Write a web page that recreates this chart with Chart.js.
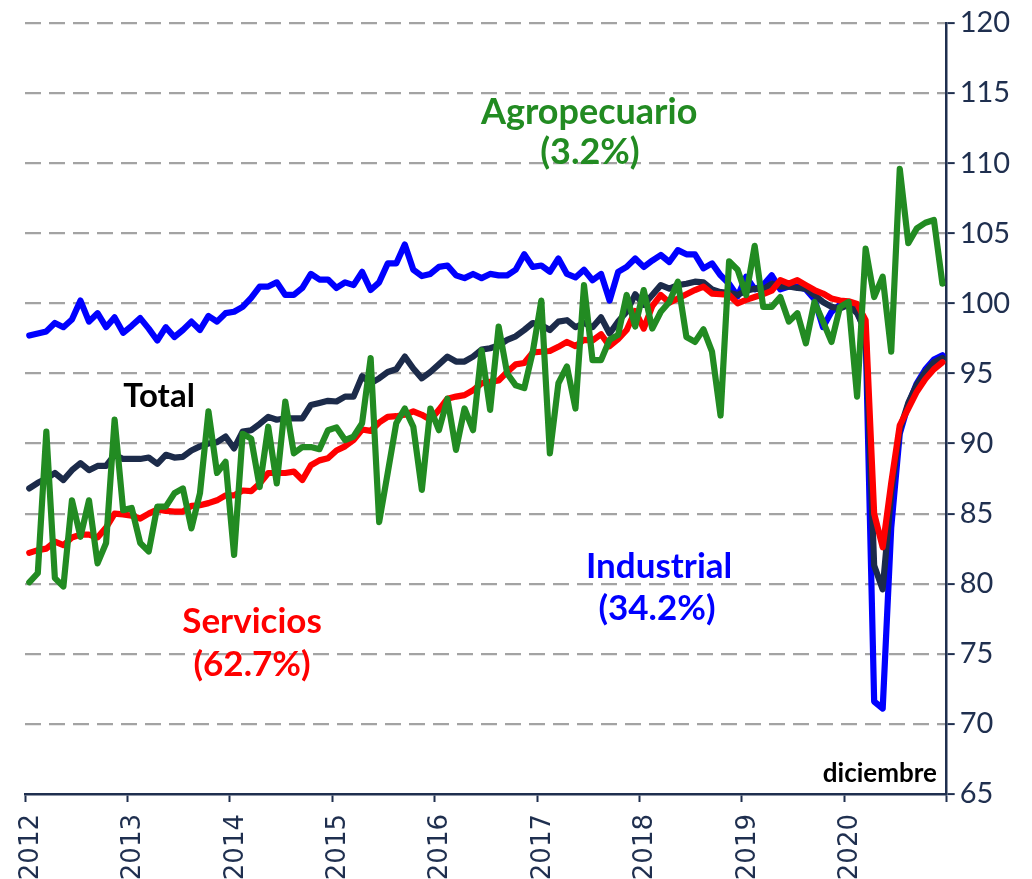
<!DOCTYPE html>
<html>
<head>
<meta charset="utf-8">
<script src="https://cdn.jsdelivr.net/npm/chart.js@4.4.1/dist/chart.umd.min.js"></script>
<style>
  html, body { margin: 0; padding: 0; background: #ffffff; }
  canvas { display: block; }
</style>
</head>
<body>
<canvas id="grafico" width="1032" height="879"></canvas>
<script>
// tick labels and categories
const anios = ['2012', '2013', '2014', '2015', '2016', '2017', '2018', '2019', '2020'];
const mesesAbr = ['ene', 'feb', 'mar', 'abr', 'may', 'jun', 'jul', 'ago', 'sep', 'oct', 'nov', 'dic'];
const meses = [];
anios.forEach(a => mesesAbr.forEach(m => meses.push(m + '-' + a.slice(2))));

// indices mensuales (2012 ene - 2020 dic)
const industrial = [
  97.7, 97.85, 98.0, 98.6, 98.3, 98.85, 100.2, 98.7, 99.3, 98.3, 99.0, 97.9,
  98.4, 98.95, 98.2, 97.35, 98.3, 97.6, 98.1, 98.7, 98.1, 99.1, 98.7, 99.3,
  99.4, 99.75, 100.4, 101.2, 101.2, 101.5, 100.6, 100.6, 101.1, 102.1, 101.7, 101.7,
  101.1, 101.5, 101.3, 102.25, 100.95, 101.5, 102.85, 102.85, 104.2, 102.4, 101.95, 102.1,
  102.6, 102.7, 102.0, 101.8, 102.1, 101.8, 102.1, 102.0, 102.0, 102.4, 103.5, 102.6,
  102.7, 102.25, 103.2, 102.1, 101.85, 102.4, 101.65, 102.1, 100.2, 102.25, 102.6, 103.2,
  102.6, 103.05, 103.45, 102.95, 103.8, 103.5, 103.5, 102.5, 102.85, 102.0, 101.4, 100.5,
  101.9, 101.0, 101.3, 102.0, 101.0, 101.2, 101.2, 101.0, 100.3, 98.3, 99.4, 99.9,
  100.0, 99.5, 97.8, 71.6, 71.1, 84.0, 90.7, 92.8, 94.3, 95.3, 96.0, 96.3
];
const total = [
  86.8, 87.2, 87.5, 87.9, 87.4, 88.1, 88.6, 88.1, 88.4, 88.4, 89.2, 88.9,
  88.9, 88.9, 89.0, 88.55, 89.2, 89.0, 89.05, 89.5, 89.8, 90.0, 90.1, 90.5,
  89.65, 90.85, 90.95, 91.4, 91.9, 91.7, 91.8, 91.8, 91.8, 92.75, 92.9, 93.05,
  93.0, 93.35, 93.35, 94.8, 94.3, 94.65, 95.1, 95.3, 96.2, 95.35, 94.65, 95.1,
  95.65, 96.2, 95.85, 95.85, 96.2, 96.7, 96.8, 97.0, 97.4, 97.65, 98.1, 98.6,
  98.45, 98.1, 98.7, 98.8, 98.3, 98.6, 98.3, 99.0, 97.85, 98.7, 99.4, 100.65,
  99.9, 100.6, 101.3, 101.05, 101.3, 101.4, 101.55, 101.5, 101.0, 100.8, 100.75, 100.6,
  100.9, 101.05, 101.0, 101.4, 101.2, 101.2, 101.1, 101.05, 100.6, 100.1, 99.75, 99.65,
  99.9, 99.3, 98.0, 81.3, 79.6, 86.5, 91.0, 92.9, 94.2, 95.1, 95.8, 96.1
];
const servicios = [
  82.2, 82.4, 82.5, 83.0, 82.75, 83.3, 83.5, 83.5, 83.3, 84.0, 85.0, 84.95,
  84.85, 84.65, 85.0, 85.3, 85.2, 85.15, 85.15, 85.55, 85.6, 85.75, 85.95, 86.3,
  86.3, 86.65, 86.6, 87.15, 87.9, 87.9, 87.9, 88.0, 87.4, 88.45, 88.8, 88.95,
  89.5, 89.8, 90.25, 91.0, 90.9, 91.5, 91.9, 91.95, 92.05, 92.3, 92.05, 91.7,
  92.4, 93.2, 93.35, 93.45, 93.8, 94.3, 94.4, 94.5, 95.1, 95.65, 95.75, 96.5,
  96.55, 96.6, 96.9, 97.25, 96.95, 97.4, 97.35, 97.8, 96.95, 97.45, 98.1, 99.45,
  98.2, 99.8, 100.6, 100.05, 100.35, 100.65, 100.95, 101.2, 100.7, 100.65, 100.6, 100.0,
  100.25, 100.45, 100.65, 100.9, 101.65, 101.4, 101.65, 101.3, 100.95, 100.7, 100.35, 100.2,
  100.15, 99.95, 98.8, 85.0, 82.6, 87.2, 91.3, 92.5, 93.7, 94.6, 95.3, 95.8
];
const agropecuario = [
  80.1, 80.75, 90.85, 80.4, 79.8, 85.95, 83.35, 85.95, 81.45, 82.9, 91.7, 85.25,
  85.4, 82.9, 82.3, 85.5, 85.5, 86.45, 86.8, 83.95, 86.45, 92.3, 87.9, 88.7,
  82.05, 90.7, 90.35, 86.9, 91.2, 87.15, 93.0, 89.3, 89.75, 89.75, 89.6, 90.95,
  91.15, 90.25, 90.5, 91.45, 96.1, 84.4, 87.9, 91.45, 92.5, 91.2, 86.7, 92.5,
  90.95, 93.2, 89.55, 92.5, 90.95, 96.65, 92.4, 98.35, 95.0, 94.15, 93.95, 96.55,
  100.2, 89.3, 94.3, 95.5, 92.5, 101.3, 95.95, 95.95, 97.4, 97.75, 100.6, 98.35,
  100.95, 98.2, 99.4, 100.1, 101.55, 97.6, 97.25, 98.15, 96.55, 92.0, 103.0, 102.4,
  100.6, 104.1, 99.75, 99.75, 100.45, 98.7, 99.3, 97.15, 100.1, 98.7, 97.25, 99.75,
  100.1, 93.35, 103.9, 100.45, 101.9, 96.55, 109.6, 104.3, 105.35, 105.75, 105.95, 101.4
];

const azulOscuro = '#1C2B4A';
const ejeColor = '#1F2F4F';
const verde = '#228B22';

// each month sits in the middle of its slot, years are the slot boundaries
function puntos(serie) {
  return meses.map((m, i) => ({ x: i + 0.5, y: serie[i] }));
}

function linea(label, serie, color) {
  return {
    label: label,
    data: puntos(serie),
    borderColor: color,
    backgroundColor: color,
    borderWidth: 6.2,
    pointRadius: 0,
    tension: 0,
    borderJoinStyle: 'round',
    borderCapStyle: 'round',
    fill: false
  };
}

// etiquetas dentro del grafico
const notas = [
  { texto: 'Agropecuario', x: 66.1, y: 112.8, color: verde, size: 36, align: 'center' },
  { texto: '(3.2%)', x: 66.2, y: 109.95, color: verde, size: 36, align: 'center' },
  { texto: 'Total', x: 15.7, y: 92.62, color: '#000000', size: 33, align: 'center' },
  { texto: 'Servicios', x: 26.6, y: 76.48, color: '#FF0000', size: 35, align: 'center' },
  { texto: '(62.7%)', x: 26.6, y: 73.42, color: '#FF0000', size: 35, align: 'center' },
  { texto: 'Industrial', x: 74.3, y: 80.41, color: '#0000FF', size: 35, align: 'center' },
  { texto: '(34.2%)', x: 74.05, y: 77.41, color: '#0000FF', size: 35, align: 'center' },
  { texto: 'diciembre', x: 106.85, y: 65.86, color: '#000000', size: 26, align: 'right' }
];

const pluginNotas = {
  id: 'notas',
  afterDatasetsDraw(chart) {
    const ctx = chart.ctx;
    const sx = chart.scales.x, sy = chart.scales.y;
    ctx.save();
    ctx.textBaseline = 'alphabetic';
    notas.forEach(n => {
      ctx.font = 'bold ' + n.size + 'px Lato, "Liberation Sans", sans-serif';
      ctx.fillStyle = n.color;
      ctx.textAlign = n.align;
      ctx.fillText(n.texto, sx.getPixelForValue(n.x), sy.getPixelForValue(n.y));
    });
    ctx.restore();
  }
};

new Chart(document.getElementById('grafico'), {
  type: 'line',
  data: {
    datasets: [
      linea('Agropecuario', agropecuario, verde),
      linea('Servicios', servicios, '#FF0000'),
      linea('Total', total, azulOscuro),
      linea('Industrial', industrial, '#0000FF')
    ]
  },
  options: {
    responsive: false,
    animation: false,
    devicePixelRatio: 1,
    layout: { padding: { left: 25, top: 23, right: 0, bottom: 0 } },
    plugins: {
      legend: { display: false },
      tooltip: { enabled: false }
    },
    scales: {
      x: {
        type: 'linear',
        min: 0,
        max: 108,
        afterFit: s => { s.height = 85; },
        ticks: {
          stepSize: 12,
          autoSkip: false,
          maxRotation: 90,
          minRotation: 90,
          padding: 12,
          labelOffset: 6,
          color: ejeColor,
          font: { family: '"DejaVu Sans", sans-serif', size: 26 },
          callback: v => anios[v / 12] || ''
        },
        grid: {
          drawOnChartArea: false,
          drawTicks: true,
          tickLength: 8,
          tickWidth: 2,
          tickColor: ejeColor,
          color: ejeColor
        },
        border: { color: ejeColor, width: 2.5 }
      },
      y: {
        position: 'right',
        min: 65,
        max: 120,
        afterFit: s => { s.width = 85.3; },
        ticks: {
          stepSize: 5,
          padding: 5,
          color: ejeColor,
          font: { family: 'Lato, "Liberation Sans", sans-serif', size: 29 }
        },
        grid: {
          color: c => (c.tick && c.tick.value === 65) ? 'rgba(0,0,0,0)' : '#A3A3A3',
          lineWidth: 2.2,
          tickLength: 8,
          tickWidth: 2,
          tickColor: ejeColor,
          tickBorderDash: []
        },
        border: { color: ejeColor, width: 2.5, dash: [16, 8] }
      }
    }
  },
  plugins: [pluginNotas]
});
</script>
</body>
</html>
